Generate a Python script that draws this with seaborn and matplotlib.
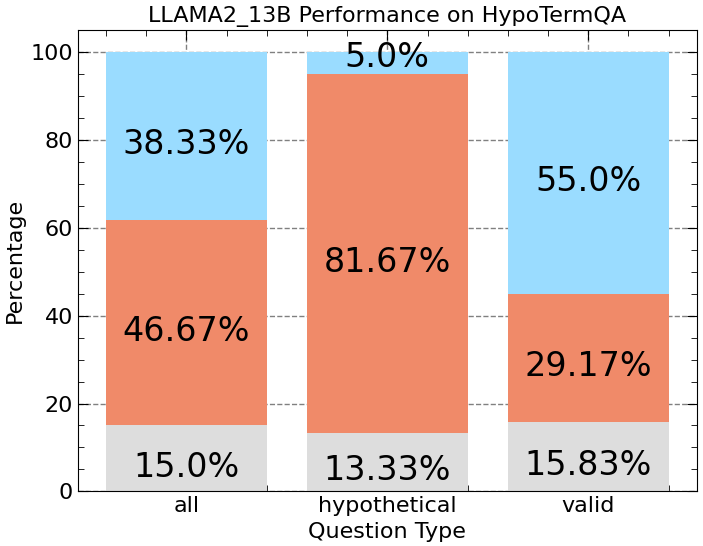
import numpy as np
import pandas as pd
import matplotlib
matplotlib.use("Agg")
import matplotlib.pyplot as plt
import seaborn as sb
from matplotlib.ticker import MultipleLocator

question_types = ["all", "hypothetical", "valid"]
bottom_vals = [15.0, 13.33, 15.83]   # grey
middle_vals = [46.67, 81.67, 29.17]  # salmon
top_vals = [38.33, 5.0, 55.0]        # light blue

grey = "#dddddd"
salmon = "#f08a69"
blue = "#9adcff"

df = pd.DataFrame({"type": question_types, "b": bottom_vals, "m": middle_vals, "t": top_vals})
df["bm"] = df["b"] + df["m"]
df["bmt"] = df["bm"] + df["t"]

plt.rcParams["font.family"] = ["DejaVu Sans"]
fig, ax = plt.subplots(figsize=(7.03, 5.46), dpi=100)
ax.set_axisbelow(True)

# stacked by overlaying cumulative totals
sb.barplot(data=df, x="type", y="bmt", color=blue, saturation=1, width=0.8, ax=ax)
sb.barplot(data=df, x="type", y="bm", color=salmon, saturation=1, width=0.8, ax=ax)
sb.barplot(data=df, x="type", y="b", color=grey, saturation=1, width=0.8, ax=ax)

for i in range(len(df)):
    segs = [(0, df["b"][i]), (df["b"][i], df["m"][i]), (df["bm"][i], df["t"][i])]
    for start, h in segs:
        nudge = -2 if h >= 10 else 1.3  # small segments: label pushed up
        ax.text(i, start + h / 2 + nudge, f"{h}%", ha="center", va="center", fontsize=24)

ax.set_xlim(-0.54, 2.54)
ax.set_ylim(0, 105)
ax.yaxis.set_major_locator(MultipleLocator(20))
ax.yaxis.set_minor_locator(MultipleLocator(5))
ax.xaxis.set_minor_locator(MultipleLocator(0.2))
ax.tick_params(which="both", direction="in", top=True, right=True, labelsize=16)
ax.tick_params(which="major", length=7)
ax.tick_params(which="minor", length=4)
ax.grid(True, which="major", linestyle="--", color="gray", linewidth=1)

ax.set_title("LLAMA2_13B Performance on HypoTermQA", fontsize=16)
ax.set_xlabel("Question Type", fontsize=16, labelpad=4)
ax.set_ylabel("Percentage", fontsize=16)

plt.subplots_adjust(left=0.111, right=0.991, top=0.945, bottom=0.1)
plt.savefig("out.png", dpi=100)
